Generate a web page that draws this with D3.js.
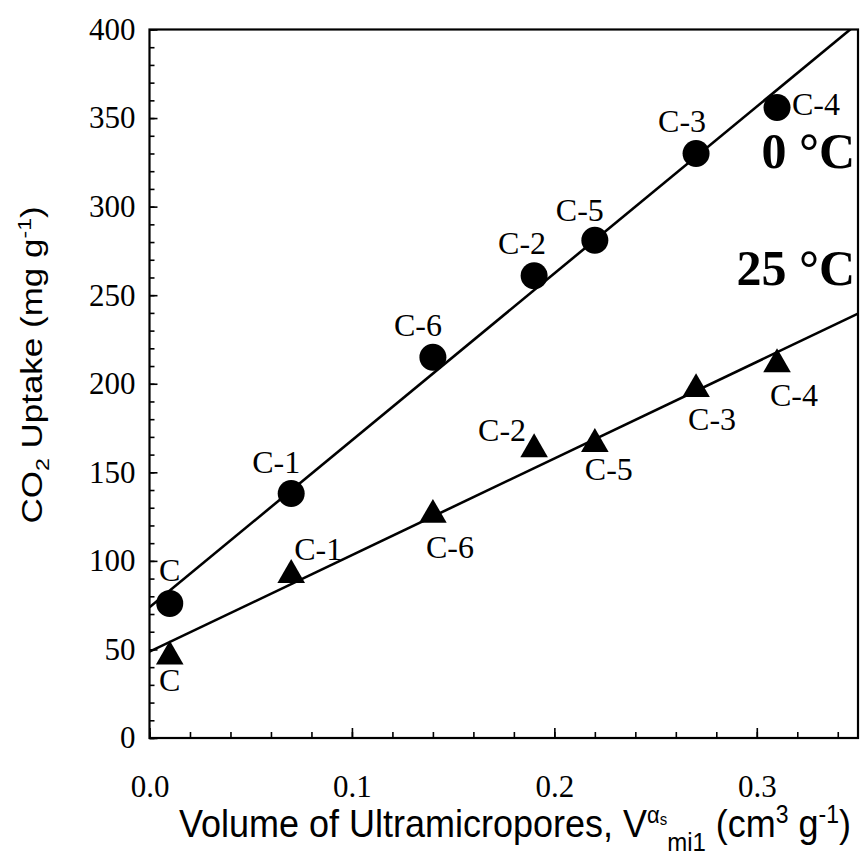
<!DOCTYPE html>
<html>
<head>
<meta charset="utf-8">
<script src="https://cdn.jsdelivr.net/npm/d3@7"></script>
<style>
html,body{margin:0;padding:0;background:#fff;}
svg{display:block;}
</style>
</head>
<body>
<svg id="chart" width="863" height="865"></svg>
<script>
// ---- data ----
const samples = ["C","C-1","C-6","C-2","C-5","C-3","C-4"];
const volume = [0.01,0.07,0.14,0.19,0.22,0.27,0.31];
const uptake0C = [76,138,215,261,281,330,356];
const uptake25C = [46,92,126,163,166,197,211];
const xTickLabels = [0.0,0.1,0.2,0.3];
const yTickLabels = [0,50,100,150,200,250,300,350,400];

// label offsets (pixels, relative to marker)
const off0C = [[0,-22,"middle"],[-15,-21,"middle"],[-15,-21,"middle"],[-12,-22,"middle"],[-15,-19,"middle"],[-14,-21,"middle"],[15,8,"start"]];
const off25C = [[0,34,"middle"],[27,-15,"middle"],[17,43,"middle"],[-32,-8,"middle"],[14,36,"middle"],[16,41,"middle"],[17,42,"middle"]];

const svg = d3.select("#chart");
const L = 149.5, R = 858, T = 29.5, B = 738;
const x = d3.scaleLinear().domain([0,0.35]).range([L,R]);
const y = d3.scaleLinear().domain([0,400]).range([B,T]);

const serif = "'Liberation Serif','Times New Roman',serif";
const sans = "'Liberation Sans',Arial,sans-serif";

// clip
svg.append("clipPath").attr("id","clip").append("rect")
  .attr("x",L).attr("y",T).attr("width",R-L).attr("height",B-T);

// regression lines
function fit(xs, ys){
  const mx = d3.mean(xs), my = d3.mean(ys);
  let sxy=0, sxx=0;
  xs.forEach((v,i)=>{sxy+=(v-mx)*(ys[i]-my); sxx+=(v-mx)*(v-mx);});
  const b = sxy/sxx; return {a: my-b*mx, b};
}
const lineGen = d3.line().x(d=>x(d[0])).y(d=>y(d[1]));
[uptake0C, uptake25C].forEach(ys=>{
  const f = fit(volume, ys);
  const pts = [[0,f.a],[0.35,f.a+f.b*0.35]];
  svg.append("path").attr("clip-path","url(#clip)")
    .attr("d", lineGen(pts)).attr("fill","none")
    .attr("stroke","#000").attr("stroke-width",2.6);
});

// axes (inside ticks)
const xAxisMinor = d3.axisBottom(x).tickValues(d3.range(0,0.35,0.02)).tickSize(-6).tickFormat("");
const xAxisMajor = d3.axisBottom(x).tickValues(xTickLabels).tickSize(-10).tickPadding(37).tickFormat(d3.format(".1f"));
const yAxisMinor = d3.axisLeft(y).tickValues(d3.range(0,401,10)).tickSize(-5).tickFormat("");
const yAxisMajor = d3.axisLeft(y).tickValues(yTickLabels).tickSize(-8).tickPadding(14).tickFormat(d3.format("d"));

function styleAxis(g){
  g.select(".domain").remove();
  g.selectAll("line").attr("stroke","#000").attr("stroke-width",1.6);
  g.selectAll("text").attr("font-family",serif).attr("font-size",31).attr("fill","#000");
}
svg.append("g").attr("transform",`translate(0,${B})`).call(xAxisMinor).call(styleAxis);
svg.append("g").attr("transform",`translate(0,${B})`).call(xAxisMajor).call(styleAxis)
  .selectAll("text").attr("dy","0.71em");
svg.append("g").attr("transform",`translate(${L},0)`).call(yAxisMinor).call(styleAxis);
svg.append("g").attr("transform",`translate(${L},0)`).call(yAxisMajor).call(styleAxis);

// frame
svg.append("rect").attr("x",L).attr("y",T).attr("width",R-L).attr("height",B-T)
  .attr("fill","none").attr("stroke","#000").attr("stroke-width",2.2);

// markers
const circles = svg.append("g");
volume.forEach((v,i)=>{
  circles.append("circle").attr("cx",x(v)).attr("cy",y(uptake0C[i])).attr("r",13.5).attr("fill","#000");
});
const tri = d3.symbol().type(d3.symbolTriangle).size(330);
volume.forEach((v,i)=>{
  svg.append("path").attr("d",tri()).attr("transform",`translate(${x(v)},${y(uptake25C[i])})`).attr("fill","#000");
});

// point labels
function addLabels(ys, offs){
  samples.forEach((s,i)=>{
    svg.append("text").attr("x",x(volume[i])+offs[i][0]).attr("y",y(ys[i])+offs[i][1])
      .attr("text-anchor",offs[i][2]).attr("font-family",serif).attr("font-size",32)
      .attr("fill","#000").text(s);
  });
}
addLabels(uptake0C, off0C);
addLabels(uptake25C, off25C);

// temperature labels
svg.append("text").attr("x",855).attr("y",168).attr("text-anchor","end")
  .attr("font-family",serif).attr("font-weight","bold").attr("font-size",50).text("0 °C");
svg.append("text").attr("x",855).attr("y",285).attr("text-anchor","end")
  .attr("font-family",serif).attr("font-weight","bold").attr("font-size",50).text("25 °C");

// x title
const xt = svg.append("text").attr("transform","translate(515,837) scale(1,1.1)").attr("text-anchor","middle")
  .attr("font-family",sans).attr("font-size",36).attr("fill","#000");
xt.append("tspan").text("Volume of Ultramicropores, V");
xt.append("tspan").attr("dy",-13).attr("font-size",22).text("α");
xt.append("tspan").attr("dy",2).attr("font-size",15).text("s");
xt.append("tspan").attr("dy",24).attr("font-size",24).text("mi1");
xt.append("tspan").attr("dy",-13).text(" (cm");
xt.append("tspan").attr("dy",-13).attr("font-size",23).text("3");
xt.append("tspan").attr("dy",13).text(" g");
xt.append("tspan").attr("dy",-13).attr("font-size",23).text("-1");
xt.append("tspan").attr("dy",13).text(")");

// y title
const yt = svg.append("text").attr("transform",`translate(42,365) rotate(-90) scale(1,0.82)`)
  .attr("text-anchor","middle").attr("font-family",sans).attr("font-size",35).attr("fill","#000");
yt.append("tspan").text("CO");
yt.append("tspan").attr("dy",9).attr("font-size",23).text("2");
yt.append("tspan").attr("dy",-9).text(" Uptake (mg g");
yt.append("tspan").attr("dy",-14).attr("font-size",23).text("-1");
yt.append("tspan").attr("dy",14).text(")");
</script>
</body>
</html>
